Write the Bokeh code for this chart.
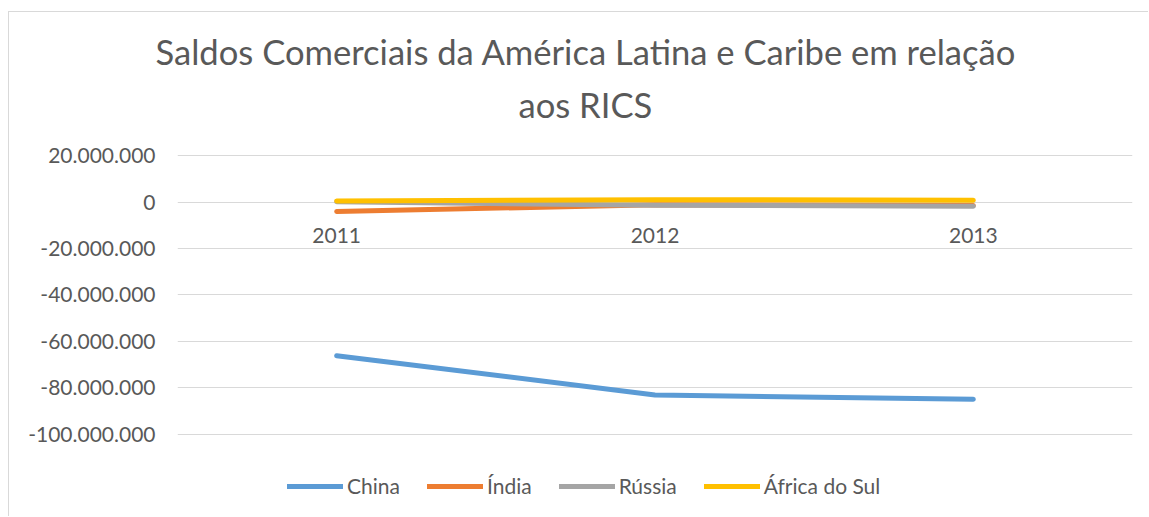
from bokeh.plotting import figure
from bokeh.models import FactorRange, Range1d, FixedTicker, Legend, LegendItem, Title
from bokeh.core.properties import value
from bokeh.embed import file_html
from bokeh.resources import INLINE

years = ["2011", "2012", "2013"]
china = [-66.2e6, -83.1e6, -85.0e6]
india = [-4.1e6, -1.2e6, -1.5e6]
russia = [0.1e6, -1.4e6, -1.8e6]
south_africa = [0.4e6, 1.0e6, 0.8e6]
series_names = ["China", "Índia", "Rússia", "África do Sul"]
y_ticks = [20e6, 0, -20e6, -40e6, -60e6, -80e6, -100e6]
y_tick_labels = ["20.000.000", "0", "-20.000.000", "-40.000.000", "-60.000.000", "-80.000.000", "-100.000.000"]
title_lines = ["Saldos Comerciais da América Latina e Caribe em relação", "aos RICS"]

FONT = "Lato"
TXT = "#595959"
colors = ["#5B9BD5", "#ED7D31", "#A5A5A5", "#FFC000"]

p = figure(width=1140, height=505, x_range=FactorRange(*years, range_padding=0),
           y_range=Range1d(-135.9e6, 26.5e6), output_backend="svg", toolbar_location=None,
           min_border_left=168, min_border_right=17, min_border_top=128, min_border_bottom=0)
p.styles = {"margin-left": "8px", "margin-top": "11px",
            "border-left": "1px solid #d9d9d9", "border-top": "1px solid #d9d9d9"}
p.outline_line_color = None
p.xaxis.visible = False
p.xgrid.visible = False
p.ygrid.grid_line_color = "#d9d9d9"
p.ygrid.grid_line_width = 1
p.yaxis.ticker = FixedTicker(ticks=y_ticks)
p.yaxis.major_label_overrides = {t: l for t, l in zip(y_ticks, y_tick_labels)}
p.yaxis.axis_line_color = None
p.yaxis.major_tick_line_color = None
p.yaxis.minor_tick_line_color = None
p.yaxis.major_tick_out = 0
p.yaxis.major_tick_in = 0
p.yaxis.major_label_text_font = FONT
p.yaxis.major_label_text_font_size = "21px"
p.yaxis.major_label_text_color = TXT
p.yaxis.major_label_standoff = 22

# chart title (two lines, added from the frame outward)
p.add_layout(Title(text=title_lines[1], align="left", offset=341, standoff=31,
                   text_font=FONT, text_font_size="34.6px", text_font_style="normal",
                   text_color=TXT), "above")
p.add_layout(Title(text=title_lines[0], align="left", offset=-22, standoff=-10,
                   text_font=FONT, text_font_size="34.6px", text_font_style="normal",
                   text_color=TXT), "above")

# category labels at the zero line
p.text(x=years, y=[0]*3, text=years, text_font=value(FONT), text_font_size="21px",
       text_color=TXT, text_align="center", text_baseline="middle", y_offset=33)

renderers = []
for vals, c in zip([china, india, russia, south_africa], colors):
    r = p.line(years, vals, line_color=c, line_width=5, line_cap="round", line_join="round")
    renderers.append(r)

legend = Legend(items=[LegendItem(label=n, renderers=[r]) for n, r in zip(series_names, renderers)],
                orientation="horizontal", location=(110, 19))
legend.label_text_font = FONT
legend.label_text_font_size = "21px"
legend.label_text_color = TXT
legend.glyph_width = 56
legend.glyph_height = 22
legend.label_height = 22
legend.label_standoff = 4
legend.spacing = 27
legend.padding = 0
legend.border_line_color = None
legend.background_fill_alpha = 0
legend.margin = 0
p.add_layout(legend, "center")

open("out.html", "w").write(file_html(p, INLINE))
